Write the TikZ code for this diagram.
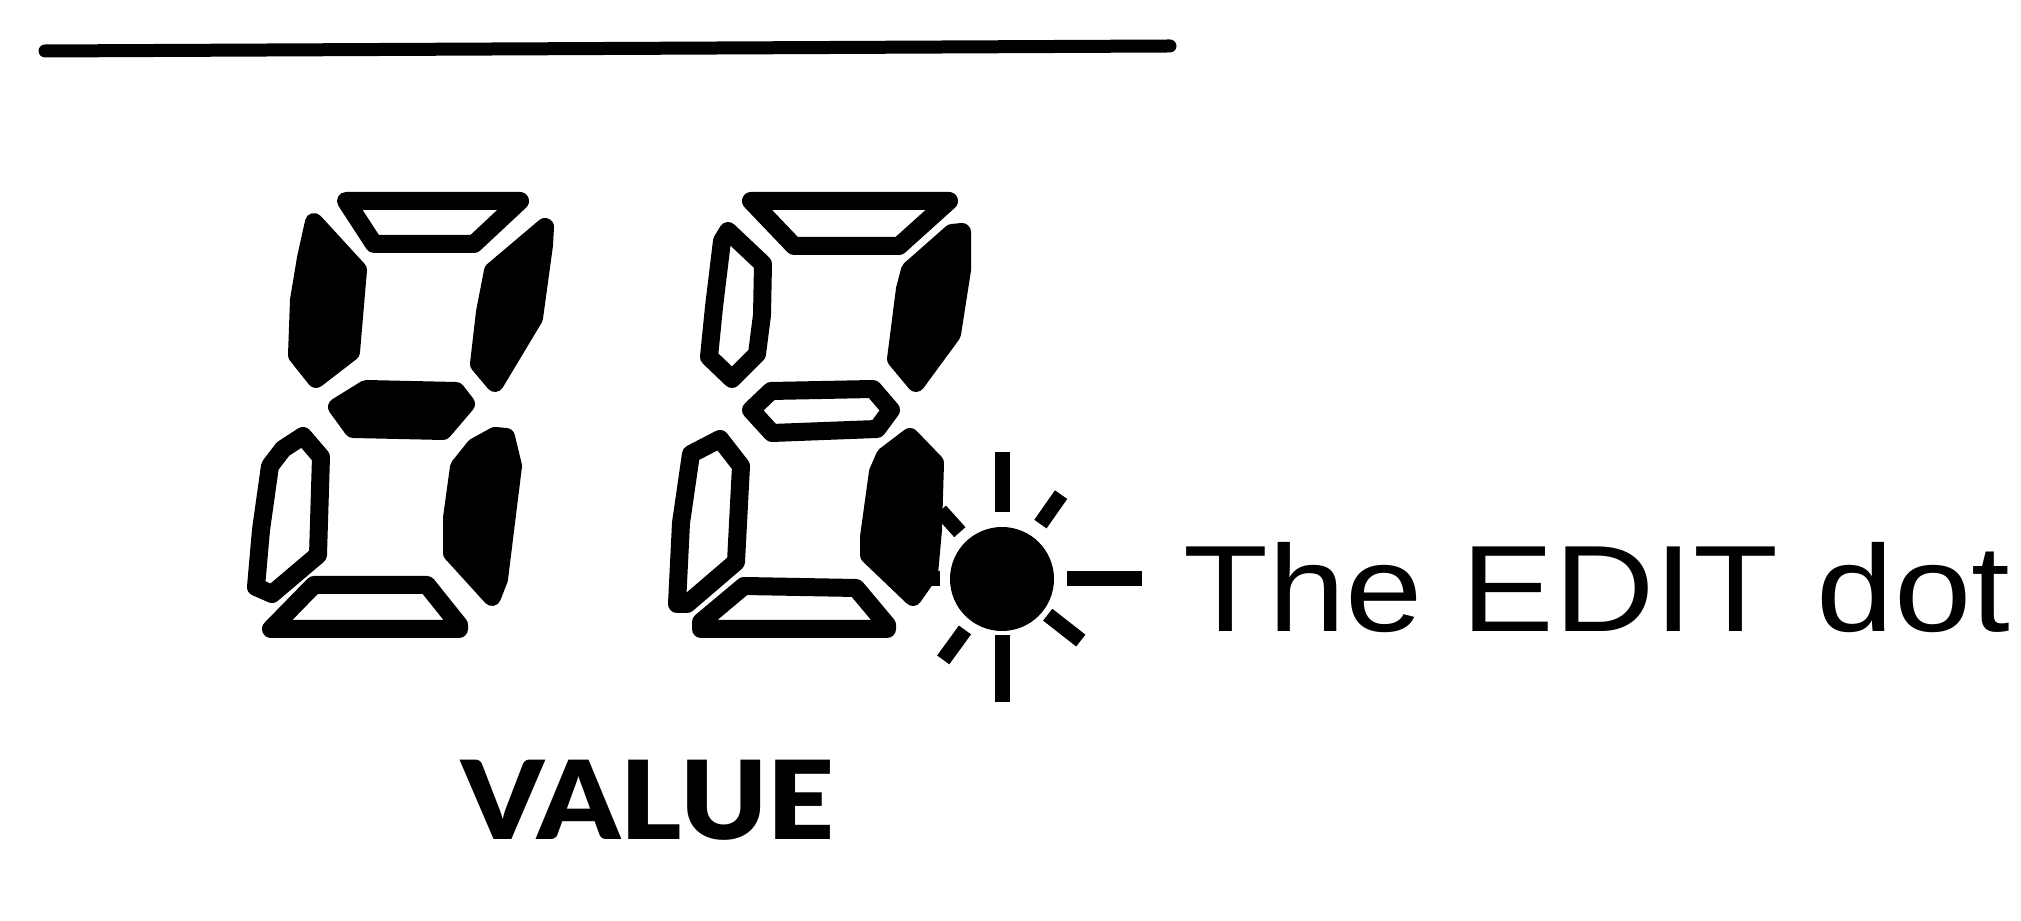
\documentclass[tikz,border=0pt]{standalone}
\usepackage{fontspec}
\setmainfont{Liberation Sans}
\newfontfamily\valuefont{Lato Black}
\usetikzlibrary{positioning}
\definecolor{lcdInk}{HTML}{000000}

\begin{document}
\begin{tikzpicture}[
    x=0.1mm, y=-0.1mm,
    seglit/.style={
        draw=lcdInk,
        fill=lcdInk,
        line width=1.8mm,
        line join=round
    },
    segunlit/.style={
        draw=lcdInk,
        fill=white,
        line width=1.8mm,
        line join=round
    },
    ray/.style={
        draw=lcdInk,
        line width=1.5mm
    },
    rule/.style={
        draw=lcdInk,
        line width=1.3mm,
        line cap=round
    }
]
\useasboundingbox (0,0) rectangle (2021,921);

% Top rule
\draw[rule] (45,51) -- (1170,46);

% Left digit
\draw[segunlit] (346,201) -- (520,201) -- (474,244) -- (374,244) -- cycle;
\draw[seglit] (314,222) -- (358,270) -- (351,352) -- (316,379) -- (297,355) -- (299,300) -- (306,258) -- cycle;
\draw[seglit] (545,227) -- (544,245) -- (534,318) -- (495,383) -- (479,364) -- (485,312) -- (493,271) -- cycle;
\draw[seglit] (337,407) -- (366,389) -- (456,391) -- (466,404) -- (443,431) -- (353,429) -- cycle;
\draw[segunlit] (303,436) -- (321,457) -- (318,555) -- (272,594) -- (256,587) -- (261,530) -- (270,466) -- (283,449) -- cycle;
\draw[seglit] (495,436) -- (506,437) -- (513,466) -- (499,579) -- (492,597) -- (452,553) -- (452,518) -- (459,467) -- (475,447) -- cycle;
\draw[segunlit] (314,585) -- (427,585) -- (459,625) -- (459,629) -- (271,629) -- cycle;

% Right digit
\draw[segunlit] (751,201) -- (949,201) -- (899,246) -- (794,246) -- cycle;
\draw[segunlit] (728,231) -- (763,264) -- (762,315) -- (757,354) -- (732,379) -- (709,357) -- (714,307) -- (722,241) -- cycle;
\draw[seglit] (952,233) -- (962,232) -- (962,270) -- (952,334) -- (916,383) -- (896,359) -- (905,289) -- (910,270) -- cycle;
\draw[segunlit] (751,410) -- (771,391) -- (873,389) -- (891,410) -- (877,429) -- (772,433) -- cycle;
\draw[segunlit] (720,439) -- (741,466) -- (736,562) -- (687,604) -- (677,604) -- (681,523) -- (691,454) -- cycle;
\draw[seglit] (910,437) -- (935,463) -- (933,530) -- (929,574) -- (913,597) -- (869,555) -- (869,537) -- (878,472) -- (885,456) -- cycle;
\draw[segunlit] (744,586) -- (856,588) -- (887,625) -- (887,629) -- (701,629) -- (701,622) -- cycle;

% EDIT dot with its rays
\node[circle, fill=lcdInk, minimum size=10.4mm, inner sep=0pt] (dot) at (1002,579) {};
\begin{scope}[shift={(dot.center)}]
  \foreach \ang/\rin/\rout in {-90/67/127, 90/56/123, 0/65/140, -55/67/103, 38/58/100, 126/63/100, -132/63/92, 180/62/80}
    \draw[ray] (\ang:\rin) -- (\ang:\rout);
\end{scope}

\node[anchor=base west, inner sep=0pt, font=\fontsize{35pt}{42pt}\selectfont] (editlabel) at (1183,632) {\scalebox{1.13}[1]{The EDIT dot}};
\node[anchor=base, inner sep=0pt, font=\valuefont\fontsize{31pt}{36pt}\selectfont] (value) at (648,840) {\scalebox{1.07}[1]{VALUE}};

\end{tikzpicture}
\end{document}
